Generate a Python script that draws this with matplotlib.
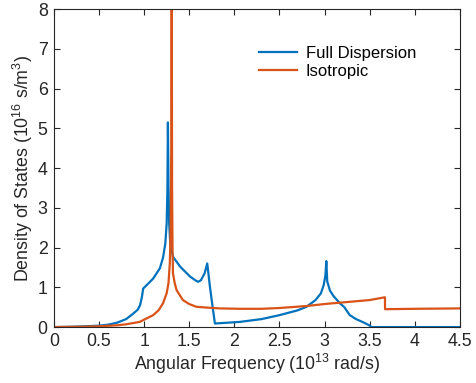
import matplotlib
matplotlib.use('Agg')
import matplotlib.pyplot as plt
import numpy as np

plt.rcParams['font.family'] = ['Liberation Sans', 'DejaVu Sans']
plt.rcParams['mathtext.fontset'] = 'custom'
plt.rcParams['mathtext.rm'] = 'Liberation Sans'

# 全色散 DOS (单位 1e16 s/m^3), 频率单位 1e13 rad/s
omega_full = [0.0, 0.2, 0.35, 0.5, 0.6, 0.7, 0.8, 0.88, 0.93, 0.955, 0.975,
              0.99, 1.03, 1.1, 1.175, 1.21, 1.235, 1.25, 1.258, 1.264, 1.27,
              1.278, 1.29, 1.32, 1.4, 1.51, 1.58, 1.6, 1.63, 1.67, 1.70,
              1.73, 1.76, 1.785, 2.06, 2.3, 2.5, 2.7, 2.8, 2.9, 2.96,
              2.99, 3.01, 3.02, 3.03, 3.06, 3.1, 3.17, 3.22, 3.28, 3.35,
              3.43, 3.5, 3.52, 4.0, 4.5]
dos_full = [0.0, 0.008, 0.02, 0.035, 0.06, 0.11, 0.2, 0.34, 0.44, 0.55, 0.75,
            0.97, 1.06, 1.22, 1.48, 1.75, 2.1, 2.6, 3.4, 5.15, 3.6,
            2.6, 2.1, 1.77, 1.52, 1.27, 1.16, 1.14, 1.18, 1.35, 1.6,
            1.01, 0.5, 0.09, 0.13, 0.2, 0.30, 0.42, 0.51, 0.68, 0.85,
            1.05, 1.3, 1.66, 1.15, 0.92, 0.78, 0.6, 0.5, 0.30, 0.2,
            0.12, 0.04, 0.0, 0.0, 0.0]

# 各向同性模型 DOS
omega_iso = [0.0, 0.3, 0.5, 0.7, 0.8, 0.95, 1.1, 1.16, 1.21, 1.25, 1.27,
             1.285, 1.295, 1.302, 1.306, 1.31, 1.315, 1.32, 1.34, 1.36, 1.43,
             1.5, 1.58, 1.7, 1.84, 2.06, 2.3, 2.5, 2.8, 3.0, 3.2, 3.5, 3.67,
             3.671, 4.0, 4.5]
dos_iso = [0.0, 0.008, 0.02, 0.045, 0.07, 0.13, 0.30, 0.42, 0.6, 0.85, 1.1,
           1.6, 2.6, 4.5, 9.0, 3.5, 2.0, 1.35, 1.1, 0.93, 0.68,
           0.58, 0.51, 0.49, 0.47, 0.46, 0.46, 0.48, 0.53, 0.58, 0.62, 0.68, 0.75,
           0.45, 0.46, 0.47]

blue = '#0072BD'
orange = '#D95319'

fig = plt.figure(figsize=(4.77, 3.83), dpi=100)
ax = fig.add_axes([0.113, 0.146, 0.851, 0.830])

ax.plot(omega_full, dos_full, color=blue, lw=1.6, label='Full Dispersion')
ax.plot(omega_iso, dos_iso, color=orange, lw=1.6, label='Isotropic')

ax.set_xlim(0, 4.5)
ax.set_ylim(0, 8)
ax.set_xticks(np.arange(0, 4.51, 0.5))
ax.set_xticklabels(['0', '0.5', '1', '1.5', '2', '2.5', '3', '3.5', '4', '4.5'])
ax.set_yticks(range(0, 9))

ax.tick_params(direction='in', top=True, right=True, length=4, width=0.8,
               color='#262626', labelsize=12.8, labelcolor='#262626')
ax.tick_params(axis='x', pad=4.5)
ax.tick_params(axis='y', pad=4.5)
for s in ax.spines.values():
    s.set_color('#262626')
    s.set_linewidth(0.8)

ax.set_xlabel('Angular Frequency (10$^{13}$ rad/s)', fontsize=12.8,
              color='#262626', labelpad=1)
ax.set_ylabel('Density of States (10$^{16}$ s/m$^3$)', fontsize=12.8,
              color='#262626', labelpad=2)

ax.legend(loc='upper left', bbox_to_anchor=(0.505, 0.885), frameon=False,
          fontsize=12, handlelength=2.3, handletextpad=0.5,
          labelspacing=0.2, borderaxespad=0, borderpad=0)

plt.savefig('out.png', dpi=100)
